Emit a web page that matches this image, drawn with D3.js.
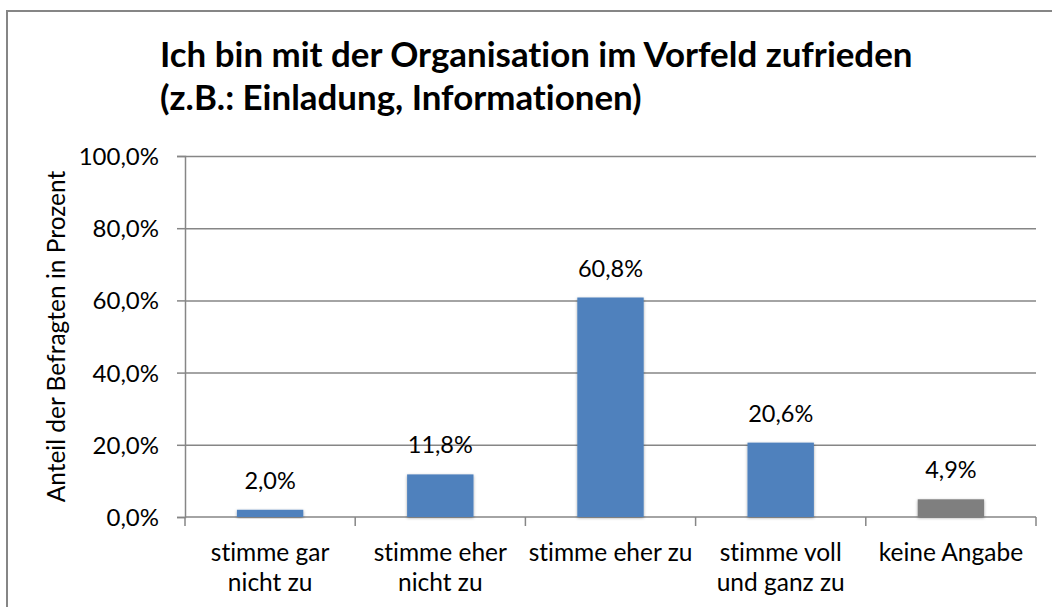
<!DOCTYPE html>
<html>
<head>
<meta charset="utf-8">
<script src="https://cdn.jsdelivr.net/npm/d3@7"></script>
<style>
  body { margin: 0; background: #fff; }
  text { font-family: Lato, "Open Sans", sans-serif; fill: #000; font-variant-ligatures: none; }
</style>
</head>
<body>
<svg width="1052" height="607"></svg>
<script>
var categories = [["stimme gar", "nicht zu"], ["stimme eher", "nicht zu"], ["stimme eher zu"], ["stimme voll", "und ganz zu"], ["keine Angabe"]];
var values = [2.0, 11.8, 60.8, 20.6, 4.9];
var barColors = ["#4f81bd", "#4f81bd", "#4f81bd", "#4f81bd", "#7f7f7f"];
var yTicks = [0, 20, 40, 60, 80, 100];
var titleLines = ["Ich bin mit der Organisation im Vorfeld zufrieden", "(z.B.: Einladung, Informationen)"];
var yLabel = "Anteil der Befragten in Prozent";

var svg = d3.select("svg"),
    width = +svg.attr("width"),
    height = +svg.attr("height"),
    margin = {top: 156, right: 16, bottom: 90, left: 185};

var fmt = function(v) { return v.toFixed(1).replace(".", ",") + "%"; };

// chart frame
svg.append("rect")
    .attr("x", 7).attr("y", 11)
    .attr("width", width + 10).attr("height", height + 10)
    .attr("fill", "#fff")
    .attr("stroke", "#868686")
    .attr("stroke-width", 2);

var defs = svg.append("defs");
defs.append("filter").attr("id", "shadow")
    .attr("x", "-20%").attr("y", "-20%").attr("width", "140%").attr("height", "140%")
  .append("feDropShadow")
    .attr("dx", 0).attr("dy", 1).attr("stdDeviation", 1.8)
    .attr("flood-color", "#000").attr("flood-opacity", 0.35);

var x = d3.scaleBand()
    .domain(d3.range(categories.length))
    .range([margin.left, width - margin.right])
    .paddingInner(0.61)
    .paddingOuter(0.305);
var xb = d3.scaleBand()
    .domain(d3.range(categories.length))
    .range([margin.left, width - margin.right]);
var y = d3.scaleLinear()
    .domain([0, 100])
    .range([height - margin.bottom, margin.top]);

// gridlines + y axis
var yAxis = svg.append("g")
    .attr("transform", "translate(" + margin.left + ",0)")
    .call(d3.axisLeft(y).tickValues(yTicks).tickFormat(fmt).tickSize(8).tickPadding(18));
yAxis.select(".domain").attr("stroke", "#868686").attr("stroke-width", 1.5);
yAxis.selectAll(".tick line").attr("stroke", "#868686").attr("stroke-width", 1.5);
yAxis.selectAll(".tick text").attr("font-size", 24).attr("fill", "#000").attr("dy", "0.35em");
yAxis.selectAll(".tick").filter(function(d) { return d > 0; })
  .append("line")
    .attr("x1", 0).attr("x2", width - margin.right - margin.left)
    .attr("stroke", "#868686").attr("stroke-width", 1.5);

// x axis
var xAxis = svg.append("g")
    .attr("transform", "translate(0," + y(0) + ")");
xAxis.append("line")
    .attr("x1", margin.left).attr("x2", width - margin.right)
    .attr("stroke", "#868686").attr("stroke-width", 1.5);
xAxis.selectAll(".xtick")
    .data(d3.range(categories.length + 1))
  .enter().append("line")
    .attr("x1", function(i) { return margin.left + i * xb.bandwidth(); })
    .attr("x2", function(i) { return margin.left + i * xb.bandwidth(); })
    .attr("y1", 0).attr("y2", 9)
    .attr("stroke", "#868686").attr("stroke-width", 1.5);
xAxis.selectAll(".xlabel")
    .data(categories)
  .enter().append("text")
    .attr("text-anchor", "middle")
    .attr("font-size", 24.5)
    .attr("transform", function(d, i) { return "translate(" + (xb(i) + xb.bandwidth() / 2) + ",44)"; })
  .selectAll("tspan")
    .data(function(d) { return d; })
  .enter().append("tspan")
    .attr("x", 0)
    .attr("y", function(d, i) { return i * 30; })
    .text(function(d) { return d; });

// bars
svg.append("g")
    .selectAll("rect")
    .data(values)
  .enter().append("rect")
    .attr("x", function(d, i) { return x(i); })
    .attr("y", function(d) { return y(d); })
    .attr("width", x.bandwidth())
    .attr("height", function(d) { return y(0) - y(d); })
    .attr("fill", function(d, i) { return barColors[i]; })
    .attr("filter", "url(#shadow)");

// value labels
svg.append("g")
    .selectAll("text")
    .data(values)
  .enter().append("text")
    .attr("x", function(d, i) { return x(i) + x.bandwidth() / 2; })
    .attr("y", function(d) { return y(d) - 21; })
    .attr("text-anchor", "middle")
    .attr("font-size", 23.5)
    .text(fmt);

// title, fitted to the reference width
var title = svg.append("text")
    .attr("x", 160)
    .attr("font-weight", "bold")
    .attr("font-size", 30);
title.selectAll("tspan")
    .data(titleLines)
  .enter().append("tspan")
    .attr("x", 160)
    .attr("y", function(d, i) { return 67 + i * 43; })
    .text(function(d) { return d; });
var w = title.select("tspan").node().getComputedTextLength();
title.attr("font-size", 30 * 753 / w);

// y axis title
svg.append("text")
    .attr("transform", "translate(65," + ((y(0) + y(100)) / 2) + ") rotate(-90)")
    .attr("text-anchor", "middle")
    .attr("font-size", 24.5)
    .text(yLabel);
</script>
</body>
</html>
